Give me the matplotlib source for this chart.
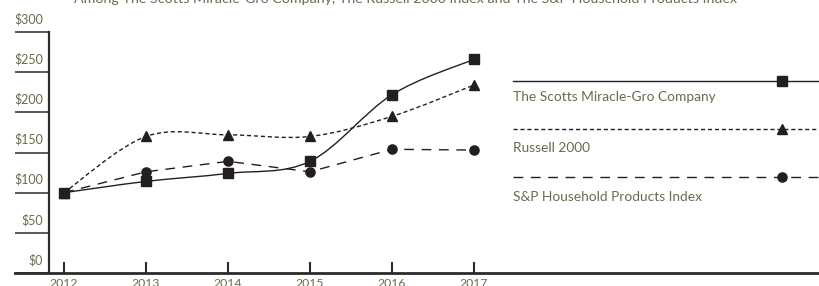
import numpy as np
import matplotlib
matplotlib.use("Agg")
import matplotlib.pyplot as plt
from matplotlib.path import Path
from matplotlib.patches import PathPatch
from matplotlib.lines import Line2D

plt.rcParams['font.family'] = ['Lato', 'DejaVu Sans']

title = ("Among The Scotts Miracle-Gro Company, The Russell 2000 Index "
         "and The S&P Household Products Index")
years = [2012, 2013, 2014, 2015, 2016, 2017]
scotts = [100, 114, 124, 139, 222, 266]
russell = [100, 170, 172, 170, 195, 234]
sp_household = [100, 126, 139, 126, 154, 153]
y_ticks = [0, 50, 100, 150, 200, 250, 300]
y_labels = ["$0", "$50", "$100", "$150", "$200", "$250", "$300"]
series_names = ["The Scotts Miracle-Gro Company", "Russell 2000",
                "S&P Household Products Index"]

INK = '#231f20'
TXT = '#6d6a4c'
W, H = 820, 286

fig = plt.figure(figsize=(W / 100, H / 100), dpi=100)

# axes box in pixels: left spine at x=49, $0 at y=273, $300 at y=32 (from top)
x0, y0, y1 = 49, 273, 32
ax = fig.add_axes([x0 / W, (H - y0) / H, (W - x0) / W, (y0 - y1) / H])
px_per_year = 82
ax.set_xlim(2012 - (64 - x0) / px_per_year, 2012 + (W - 64) / px_per_year)
ax.set_ylim(0, 300)

for s in ('top', 'right', 'bottom'):
    ax.spines[s].set_visible(False)
ax.spines['left'].set_linewidth(1.6)
ax.spines['left'].set_color('#2b2b2b')

ax.set_yticks(y_ticks)
ax.set_yticklabels([])
ax.tick_params(axis='y', direction='out', length=24.5, width=1.1, color='#2b2b2b')
for v, lab in zip(y_ticks, y_labels):
    ax.annotate(lab, xy=(0, v), xycoords=ax.get_yaxis_transform(),
                xytext=(-4.3, 9.4), textcoords='offset points',
                ha='right', va='center', fontsize=9, color=TXT)

ax.set_xticks(years)
ax.set_xticklabels([str(y) for y in years], fontsize=8.8, color=TXT)
ax.tick_params(axis='x', direction='in', length=8, width=1.5, color='#2b2b2b', pad=3.5)

# bottom axis line running to the right edge
fig.add_artist(Line2D([15 / W, 1], [(H - y0) / H] * 2, color='#2b2b2b', lw=2.0,
                      transform=fig.transFigure))


def smooth_path(xs, ys):
    pts = np.column_stack([xs, ys]).astype(float)
    verts = [pts[0]]
    codes = [Path.MOVETO]
    n = len(pts)
    for i in range(n - 1):
        p0 = pts[max(i - 1, 0)]
        p1 = pts[i]
        p2 = pts[i + 1]
        p3 = pts[min(i + 2, n - 1)]
        c1 = p1 + (p2 - p0) / 6
        c2 = p2 - (p3 - p1) / 6
        verts += [c1, c2, p2]
        codes += [Path.CURVE4] * 3
    return Path(verts, codes)


styles = [
    dict(ls='-', marker='s', ms=7.2, smooth=True),
    dict(ls=(0, (3, 2)), marker='^', ms=7.4, smooth=True),
    dict(ls=(0, (7, 5.5)), marker='o', ms=6.6, smooth=False),
]
data = [scotts, russell, sp_household]

for vals, st in zip(data, styles):
    if st['smooth']:
        ax.add_patch(PathPatch(smooth_path(years, vals), fill=False, ec=INK,
                               lw=1.0, ls=st['ls'], clip_on=False))
    else:
        ax.plot(years, vals, color=INK, lw=1.0, ls=st['ls'], clip_on=False)
    ax.plot(years, vals, ls='none', marker=st['marker'], ms=st['ms'],
            color=INK, clip_on=False, zorder=5)

# legend drawn as rows: line with marker above label
leg_line_y = [81, 129, 177]
leg_text_y = [97, 148, 197]
for name, st, ly, ty in zip(series_names, styles, leg_line_y, leg_text_y):
    fig.add_artist(Line2D([513 / W, 1], [(H - ly) / H] * 2, color=INK, lw=1.0,
                          ls=st['ls'], transform=fig.transFigure))
    fig.add_artist(Line2D([782 / W], [(H - ly) / H], color=INK, ls='none',
                          marker=st['marker'], ms=st['ms'],
                          transform=fig.transFigure))
    fig.text(513 / W, (H - ty) / H, name, ha='left', va='center',
             fontsize=9.9, color=TXT)

fig.text(406 / W, (H - 3) / H, title, ha='center', va='baseline',
         fontsize=10.3, color=TXT)

fig.savefig('out.png', dpi=100)
